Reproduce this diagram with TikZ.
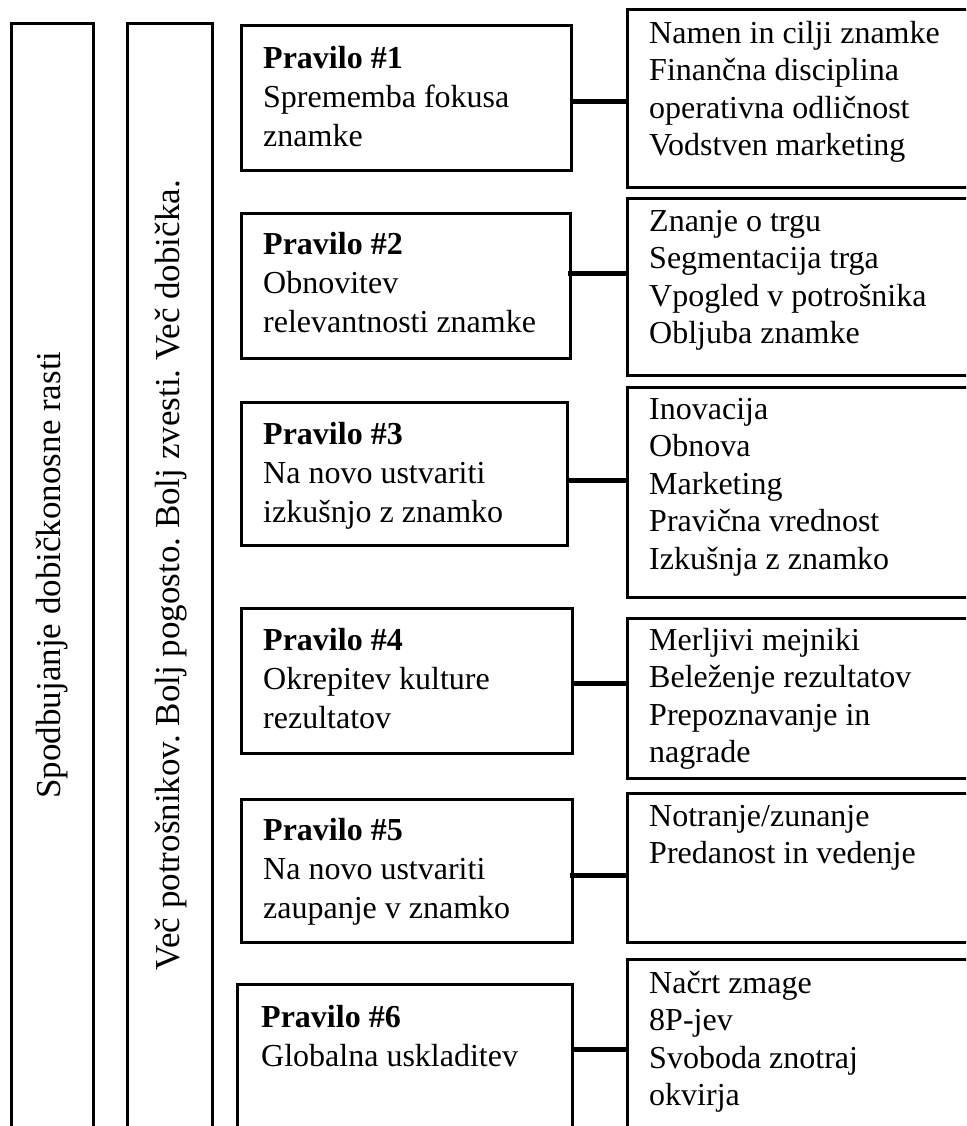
\documentclass[tikz,border=0pt]{standalone}
\usepackage{fontspec}
\setmainfont{Liberation Serif}
\frenchspacing
\begin{document}
\begin{tikzpicture}[x=1pt,y=-1pt,
  frame/.style={draw, line width=3pt, inner sep=0pt, outer sep=0pt, anchor=north west},
  txt/.style={anchor=north west, inner sep=0pt, align=left, font=\fontsize{32}{37.5}\selectfont},
  ltxt/.style={txt, font=\fontsize{32}{39}\selectfont},
  bartxt/.style={inner sep=0pt, rotate=90, font=\fontsize{35}{40}\selectfont},
  link/.style={line width=5pt}]
\useasboundingbox (0,0) rectangle (966,1126);
\clip (0,0) rectangle (966,1126);
% vertical bars
\node[frame, minimum width=82pt, minimum height=1130pt] (bar1) at (11,24) {};
\node[frame, minimum width=85pt, minimum height=1130pt] (bar2) at (127,24) {};
\node[bartxt] (bt1) at (52,575) {Spodbujanje dobičkonosne rasti};
\node[bartxt] (bt2) at (171,575) {Več potrošnikov. Bolj pogosto. Bolj zvesti. Več dobička.};
% left boxes
\node[frame, minimum width=330pt, minimum height=145pt] (l1) at (241,26) {};
\node[frame, minimum width=329pt, minimum height=145pt] (l2) at (241,213) {};
\node[frame, minimum width=326pt, minimum height=143pt] (l3) at (241,402) {};
\node[frame, minimum width=331pt, minimum height=145pt] (l4) at (241,608) {};
\node[frame, minimum width=331pt, minimum height=143pt] (l5) at (241,799) {};
\node[frame, minimum width=335pt, minimum height=200pt] (l6) at (237,984) {};
% right boxes
\node[frame, minimum width=360pt, minimum height=178pt] (r1) at (627,10) {};
\node[frame, minimum width=360pt, minimum height=177pt] (r2) at (627,198) {};
\node[frame, minimum width=360pt, minimum height=210pt] (r3) at (627,387) {};
\node[frame, minimum width=360pt, minimum height=160pt] (r4) at (627,618) {};
\node[frame, minimum width=360pt, minimum height=149pt] (r5) at (627,793) {};
\node[frame, minimum width=360pt, minimum height=200pt] (r6) at (627,959) {};
% left texts
\node[ltxt] (t1) at (263,46) {\textbf{Pravilo \#1}\\Sprememba fokusa\\znamke};
\node[ltxt] (t2) at (263,232) {\textbf{Pravilo \#2}\\Obnovitev\\relevantnosti znamke};
\node[ltxt] (t3) at (263,422) {\textbf{Pravilo \#3}\\Na novo ustvariti\\izkušnjo z znamko};
\node[ltxt] (t4) at (263,628) {\textbf{Pravilo \#4}\\Okrepitev kulture\\rezultatov};
\node[ltxt] (t5) at (263,818) {\textbf{Pravilo \#5}\\Na novo ustvariti\\zaupanje v znamko};
\node[ltxt] (t6) at (261,1005) {\textbf{Pravilo \#6}\\Globalna uskladitev};
% right texts
\node[txt] (s1) at (649,21) {Namen in cilji znamke\\Finančna disciplina\\operativna odličnost\\Vodstven marketing};
\node[txt] (s2) at (649,210) {Znanje o trgu\\Segmentacija trga\\Vpogled v potrošnika\\Obljuba znamke};
\node[txt] (s3) at (649,398) {Inovacija\\Obnova\\Marketing\\Pravična vrednost\\Izkušnja z znamko};
\node[txt] (s4) at (649,628) {Merljivi mejniki\\Beleženje rezultatov\\Prepoznavanje in\\nagrade};
\node[txt] (s5) at (649,805) {Notranje/zunanje\\Predanost in vedenje};
\node[txt] (s6) at (649,971) {Načrt zmage\\8P-jev\\Svoboda znotraj\\okvirja};
% connectors
\coordinate (c1) at (0,102);
\coordinate (c2) at (0,273);
\coordinate (c3) at (0,480);
\coordinate (c4) at (0,683);
\coordinate (c5) at (0,875);
\coordinate (c6) at (0,1049);
\draw[link] (l1.east |- c1) -- (r1.west |- c1);
\draw[link] ([xshift=-2pt]l2.east |- c2) -- (r2.west |- c2);
\draw[link] (l3.east |- c3) -- (r3.west |- c3);
\draw[link] (l4.east |- c4) -- (r4.west |- c4);
\draw[link] ([xshift=-2pt]l5.east |- c5) -- (r5.west |- c5);
\draw[link] (l6.east |- c6) -- (r6.west |- c6);
\end{tikzpicture}
\end{document}
